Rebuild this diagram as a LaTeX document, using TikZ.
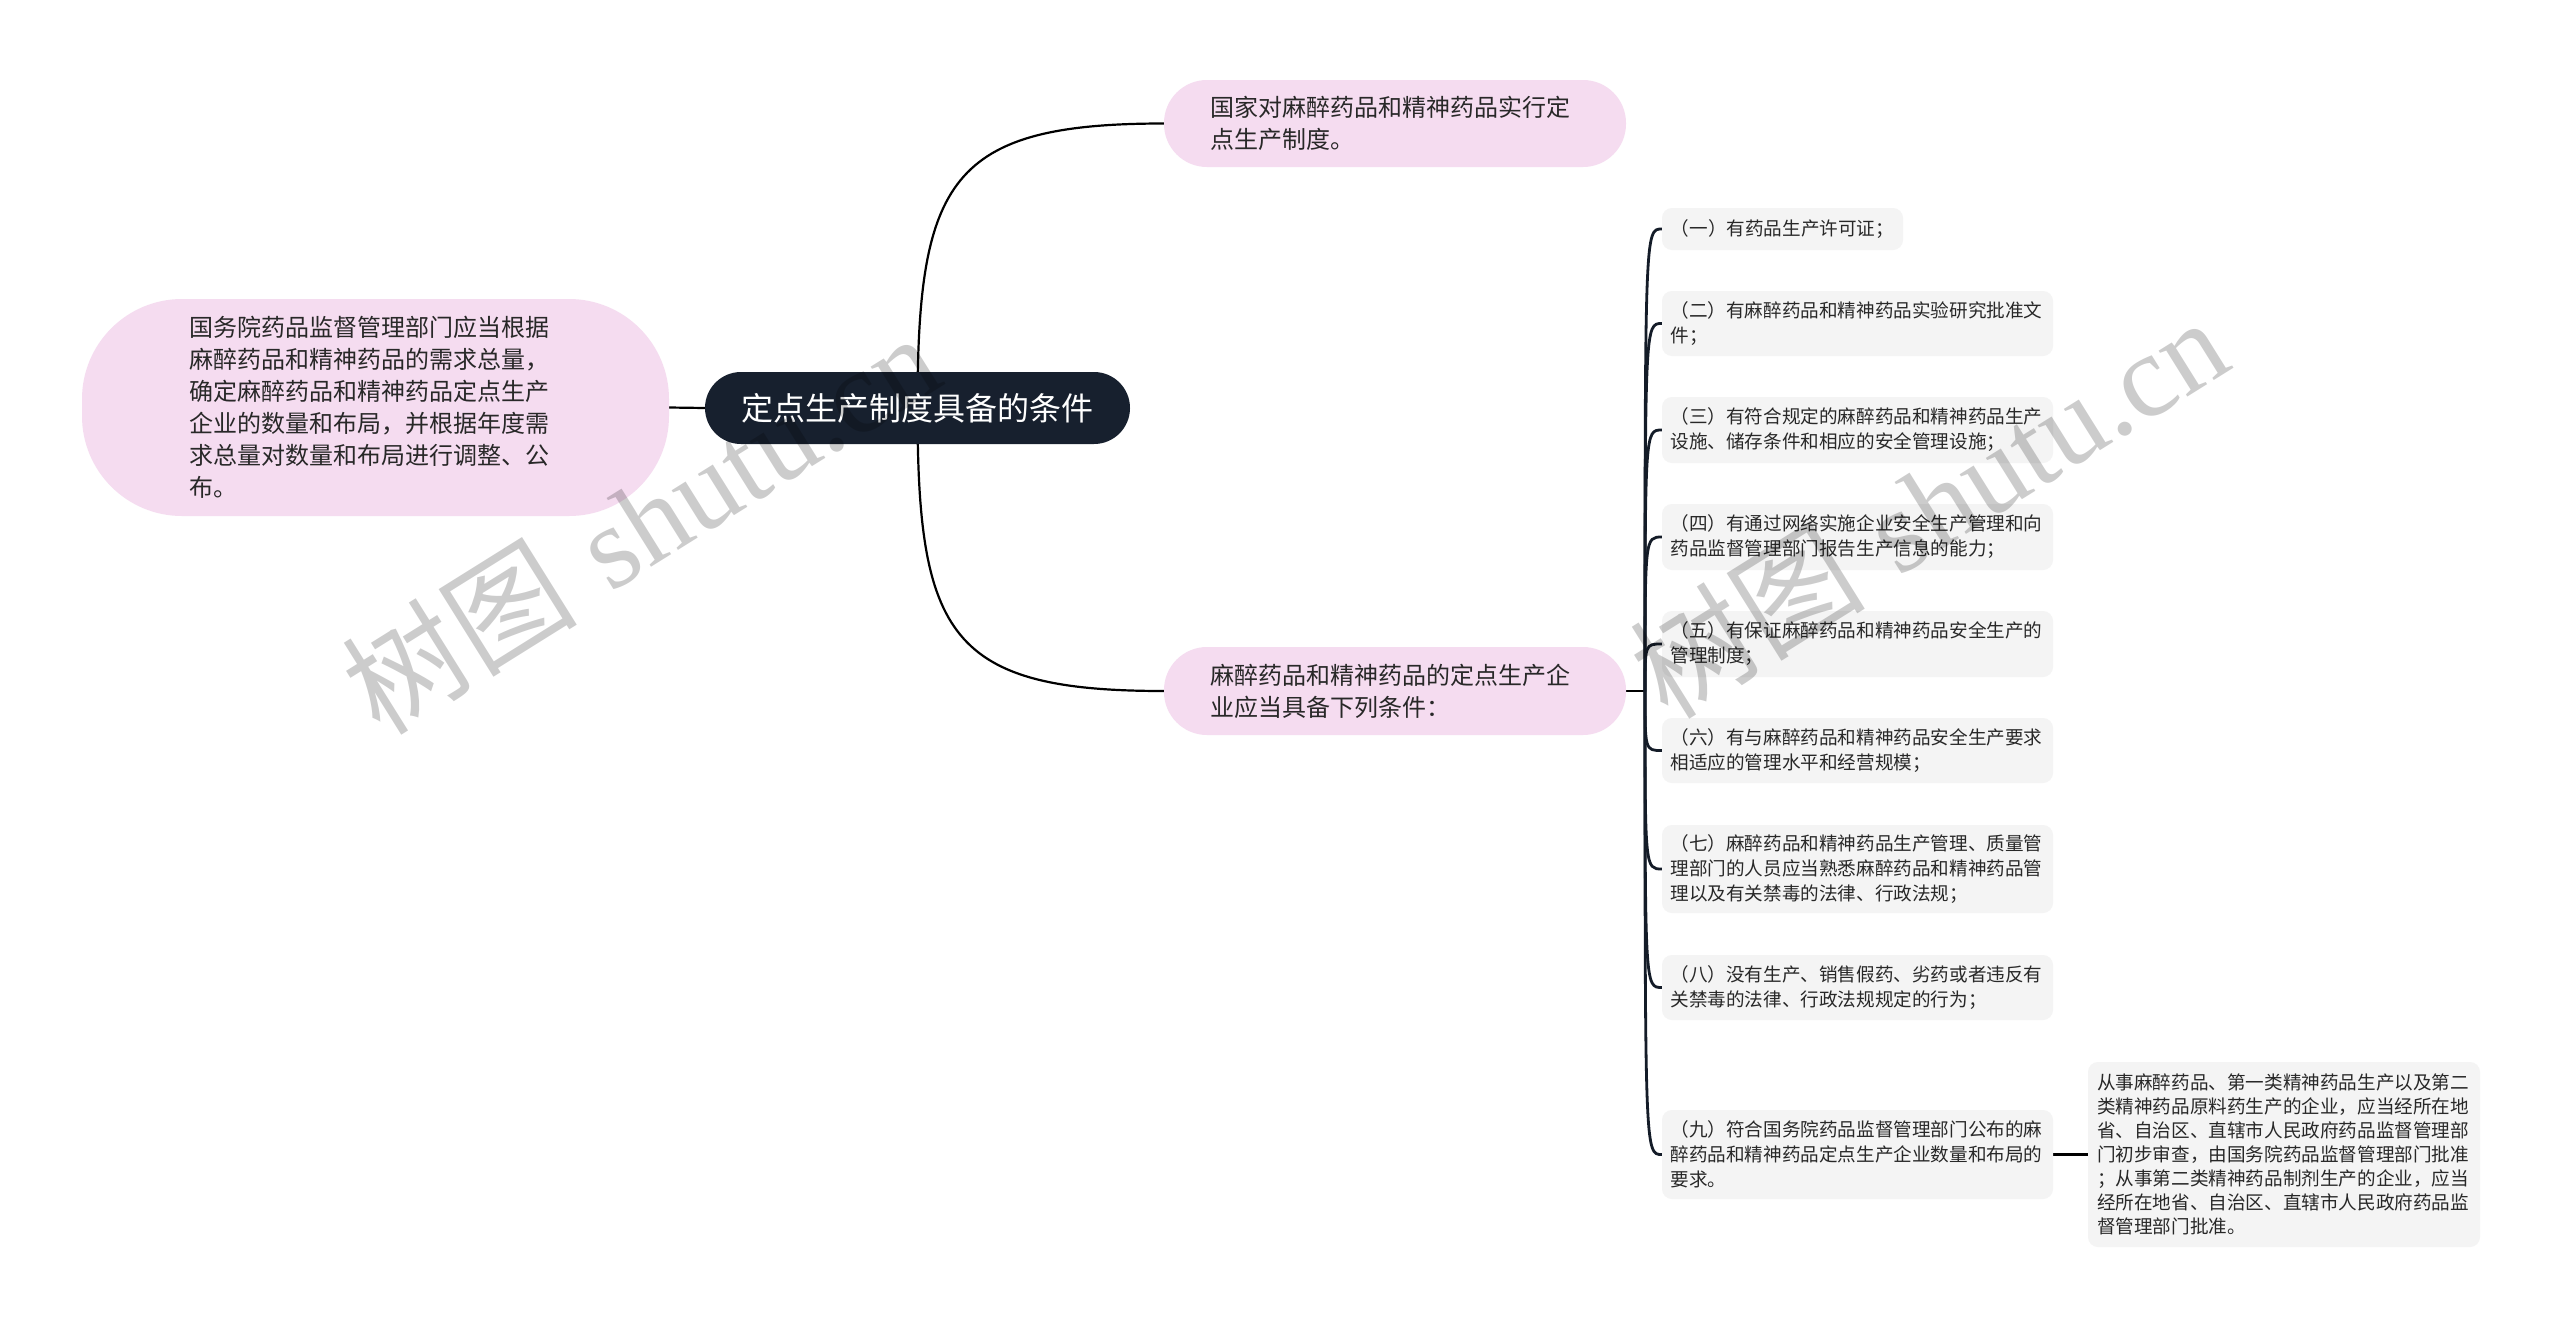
\documentclass[tikz,border=0pt]{standalone}
\usepackage{fontspec}
\newfontfamily\cjk{Noto Sans CJK SC}
\newfontfamily\wmserif{Liberation Serif}
\definecolor{pinkfill}{RGB}{245,220,240}
\definecolor{rootfill}{RGB}{23,32,46}
\definecolor{childfill}{RGB}{244,244,244}
\definecolor{linecol}{RGB}{20,28,40}
\definecolor{txtcol}{RGB}{40,40,40}
\pgfdeclarelayer{bg}\pgfdeclarelayer{fg}
\pgfsetlayers{bg,main,fg}
\begin{document}
\begin{tikzpicture}[x=1pt,y=-1pt,
 rootnode/.style={fill=rootfill, rounded corners=36pt, minimum width=425pt, minimum height=72pt, inner sep=0pt, text=white, font=\cjk\fontsize{32}{40}\selectfont},
 pinknode/.style={fill=pinkfill, inner sep=0pt, text=txtcol, align=left, font=\cjk\fontsize{24}{32}\selectfont},
 childnode/.style={fill=childfill, rounded corners=10pt, inner sep=0pt, text=txtcol, align=left, font=\cjk\fontsize{18.6}{25}\selectfont},
 childwide/.style={childnode, minimum width=391pt, text width=374pt},
 conn/.style={line width=2.2pt, black},
 branch/.style={line width=2.8pt, linecol},
 wm/.style={text=black, text opacity=0.2, rotate=32, inner sep=0pt, font=\fontsize{118}{128}\selectfont}
]
\useasboundingbox (0,0) rectangle (2560,1328);

% nodes
\node[rootnode] (root) at (917.5,408) {定点生产制度具备的条件};
\node[pinknode, rounded corners=100pt, minimum width=587pt, minimum height=217pt, text width=372pt] (left) at (375.5,407.5)
 {国务院药品监督管理部门应当根据\\麻醉药品和精神药品的需求总量，\\确定麻醉药品和精神药品定点生产\\企业的数量和布局，并根据年度需\\求总量对数量和布局进行调整、公\\布。};
\node[pinknode, rounded corners=43pt, minimum width=462pt, minimum height=87pt, text width=370pt] (top) at (1395,123.5)
 {国家对麻醉药品和精神药品实行定\\点生产制度。};
\node[pinknode, rounded corners=43pt, minimum width=462pt, minimum height=88pt, text width=370pt] (mid) at (1395,691)
 {麻醉药品和精神药品的定点生产企\\业应当具备下列条件：};

\node[childnode, minimum width=241pt, minimum height=42pt] (c1) at (1782.5,229) {（一）有药品生产许可证；};
\node[childwide, minimum height=65pt] (c2) at (1857.5,323.5) {（二）有麻醉药品和精神药品实验研究批准文\\件；};
\node[childwide, minimum height=66pt] (c3) at (1857.5,430) {（三）有符合规定的麻醉药品和精神药品生产\\设施、储存条件和相应的安全管理设施；};
\node[childwide, minimum height=66pt] (c4) at (1857.5,537) {（四）有通过网络实施企业安全生产管理和向\\药品监督管理部门报告生产信息的能力；};
\node[childwide, minimum height=66pt] (c5) at (1857.5,644) {（五）有保证麻醉药品和精神药品安全生产的\\管理制度；};
\node[childwide, minimum height=65pt] (c6) at (1857.5,750.5) {（六）有与麻醉药品和精神药品安全生产要求\\相适应的管理水平和经营规模；};
\node[childwide, minimum height=88pt] (c7) at (1857.5,869) {（七）麻醉药品和精神药品生产管理、质量管\\理部门的人员应当熟悉麻醉药品和精神药品管\\理以及有关禁毒的法律、行政法规；};
\node[childwide, minimum height=65pt] (c8) at (1857.5,987.5) {（八）没有生产、销售假药、劣药或者违反有\\关禁毒的法律、行政法规规定的行为；};
\node[childwide, minimum height=89pt] (c9) at (1857.5,1154.5) {（九）符合国务院药品监督管理部门公布的麻\\醉药品和精神药品定点生产企业数量和布局的\\要求。};
\node[childnode, minimum width=392pt, minimum height=185pt, text width=374pt, font=\cjk\fontsize{18.6}{24}\selectfont] (c10) at (2284,1154.5)
 {从事麻醉药品、第一类精神药品生产以及第二\\类精神药品原料药生产的企业，应当经所在地\\省、自治区、直辖市人民政府药品监督管理部\\门初步审查，由国务院药品监督管理部门批准\\；从事第二类精神药品制剂生产的企业，应当\\经所在地省、自治区、直辖市人民政府药品监\\督管理部门批准。};

% background and connectors
\begin{pgfonlayer}{bg}
\fill[white] (0,0) rectangle (2560,1328);
\draw[conn] (root.west) -- (left.east);
\draw[conn] (root.center) .. controls (917.5,180) and (950,123.5) .. (top.west);
\draw[conn] (root.center) .. controls (917.5,636) and (950,691) .. (mid.west);
\coordinate (J) at (1645,691);
\draw[conn] (mid.east) -- (J);
\foreach \c in {c1,c2,c3,c4,c5,c6,c7,c8,c9}
  \draw[branch] (J) .. controls (J |- \c.west) and (J |- \c.west) .. (\c.west);
\draw[conn] (c9.east) -- (c10.west);
\end{pgfonlayer}

% watermark
\begin{pgfonlayer}{fg}
\node[wm] (wm1) at (640,522) {{\cjk 树图} {\wmserif shutu.cn}};
\node[wm] (wm2) at (1928,506) {{\cjk 树图} {\wmserif shutu.cn}};
\end{pgfonlayer}
\end{tikzpicture}
\end{document}
